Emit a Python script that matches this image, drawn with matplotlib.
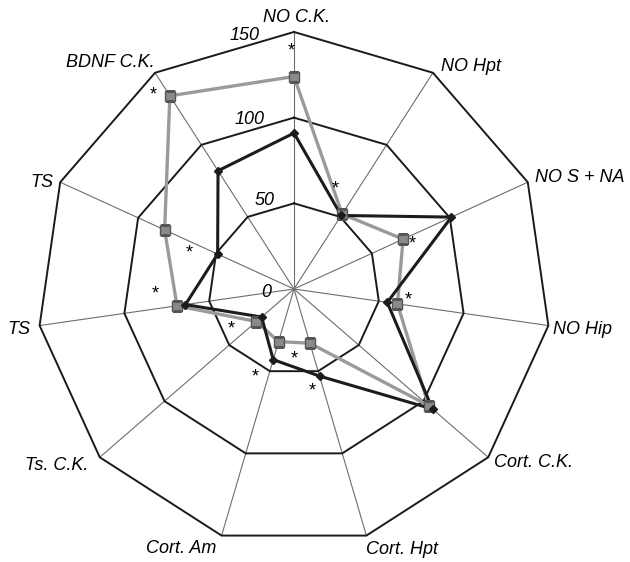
import numpy as np
import matplotlib.pyplot as plt

plt.rcParams['font.family'] = ['Liberation Sans', 'DejaVu Sans']

# data
categories = ['NO C.K.', 'NO Hpt', 'NO S + NA', 'NO Hip', 'Cort. C.K.', 'Cort. Hpt',
              'Cort. Am', 'Ts. C.K.', 'TS', 'TS', 'BDNF C.K.']
black_vals = [91, 51, 101, 55, 107, 53, 43, 25, 64, 49, 82]
gray_vals = [124, 52, 70, 61, 104, 33, 32, 29, 69, 83, 134]
rings = [50, 100, 150]
ring_labels = ['0', '50', '100', '150']

# significance stars (angle clockwise from top in degrees, radius in data units)
star_angles = [-0.7, 21.1, 66.6, 92.5, 169.4, 180, 205.4, 241.6, 270.4, 291.8, 324.8]
star_radii = [142.4, 66.4, 75, 66.6, 57, 37.4, 53, 41.8, 81.1, 66, 142.9]

n = len(categories)
theta = np.arange(n) * 2 * np.pi / n
theta_c = np.append(theta, theta[0])

fig = plt.figure(figsize=(6.3, 5.62), dpi=100)
ax = fig.add_axes([0.0587, 0.0285, 0.8159, 0.9146], projection='polar')
ax.set_theta_offset(np.pi / 2)
ax.set_theta_direction(-1)
ax.set_ylim(0, 150)
ax.axis('off')

# grid
for t in theta:
    ax.plot([t, t], [0, 150], color='#6e6e6e', lw=0.8, zorder=1, clip_on=False)
for r in rings:
    ax.plot(theta_c, [r] * (n + 1), color='#1a1a1a', lw=1.4, zorder=1, clip_on=False)

# series
ax.plot(theta_c, gray_vals + gray_vals[:1], color='#9a9a9a', lw=2.4, zorder=3)
ax.plot(theta_c, black_vals + black_vals[:1], color='#1c1c1c', lw=2.2, zorder=4)
ax.plot(theta, gray_vals, ls='none', marker='s', ms=7, mfc='#8a8a8a', mec='#555555',
        mew=1.0, zorder=5)
ax.plot(theta, black_vals, ls='none', marker='D', ms=4.5, mfc='#1c1c1c', mec='#1c1c1c',
        zorder=6)

# category labels (offsets in pixels from outer vertex)
lab_off = [(3, 14), (8, 6), (7, 5), (5, -4), (6, -5), (0, -14),
           (-5, -13), (-11, -8), (-9, -4), (-7, 0), (0, 10)]
lab_ha = ['center', 'left', 'left', 'left', 'left', 'left',
          'right', 'right', 'right', 'right', 'right']
for t, name, (dx, dy), ha in zip(theta, categories, lab_off, lab_ha):
    ax.annotate(name, (t, 150), xytext=(dx * 0.72, dy * 0.72), textcoords='offset points',
                ha=ha, va='center', fontsize=13, style='italic', annotation_clip=False)

# ring value labels
val_off = [(-27.5, -4), (-29.5, 3), (-44, -2), (-49, -4)]
for v, txt, (dx, dy) in zip([0] + rings, ring_labels, val_off):
    ax.annotate(txt, (0, v), xytext=(dx * 0.72, dy * 0.72), textcoords='offset points',
                ha='center', va='center', fontsize=13, style='italic', annotation_clip=False)

for a, r in zip(star_angles, star_radii):
    ax.annotate('*', (np.deg2rad(a), r), xytext=(0, -4.5), textcoords='offset points',
                ha='center', va='center', fontsize=13, annotation_clip=False)

fig.savefig('out.png', dpi=100)
